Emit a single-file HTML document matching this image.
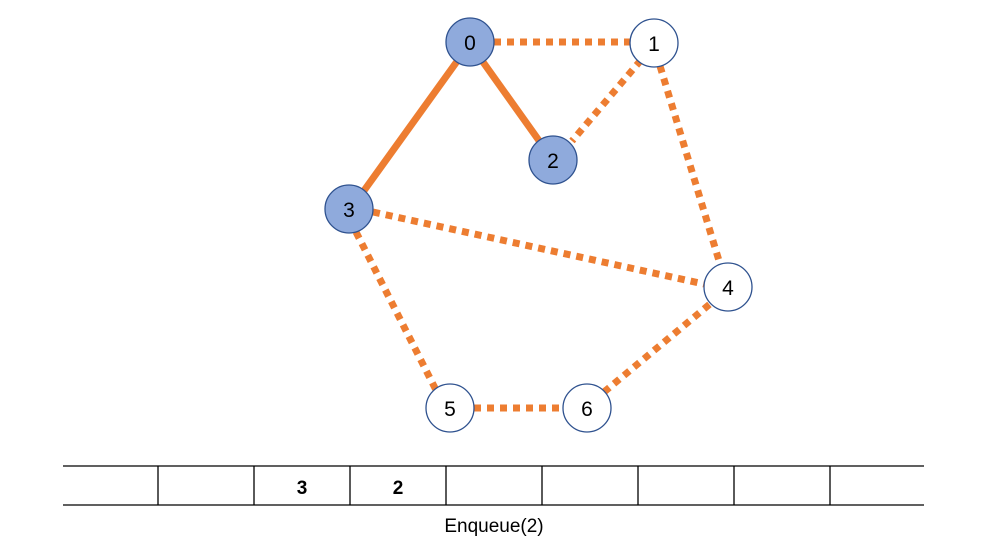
<!DOCTYPE html>
<html><head><style>
html,body{margin:0;padding:0;background:#fff;}
svg{display:block;font-family:"Liberation Sans",sans-serif;}
</style></head><body>
<svg width="984" height="550" viewBox="0 0 984 550" xmlns="http://www.w3.org/2000/svg">
<g stroke="#ED7D31" stroke-width="7" fill="none">
<g stroke-dasharray="7 6">
<line x1="494" y1="42" x2="630" y2="42"/>
<line x1="641" y1="60" x2="572" y2="141"/>
<line x1="660" y1="66" x2="720" y2="264"/>
<line x1="373" y1="212" x2="704" y2="284"/>
<line x1="356" y1="232" x2="436" y2="390"/>
<line x1="474" y1="408" x2="563" y2="408"/>
<line x1="604" y1="392" x2="710" y2="304"/>
</g>
<line x1="458" y1="60" x2="363" y2="192"/>
<line x1="483" y1="62" x2="540" y2="142"/>
</g>
<g stroke="#2F528F" stroke-width="1.3">
<circle cx="470" cy="42" r="24" fill="#8FAADC"/>
<circle cx="654" cy="43" r="24" fill="#fff"/>
<circle cx="553" cy="160" r="24" fill="#8FAADC"/>
<circle cx="349" cy="209" r="24" fill="#8FAADC"/>
<circle cx="728" cy="287" r="24" fill="#fff"/>
<circle cx="450" cy="408" r="24" fill="#fff"/>
<circle cx="587" cy="408" r="24" fill="#fff"/>
</g>
<g font-size="21" text-anchor="middle" fill="#000">
<text x="470" y="50">0</text>
<text x="654" y="51">1</text>
<text x="553" y="168">2</text>
<text x="349" y="217">3</text>
<text x="728" y="295">4</text>
<text x="450" y="416">5</text>
<text x="587" y="416">6</text>
</g>
<g stroke="#000" stroke-width="1.3">
<line x1="63" y1="466" x2="924" y2="466"/>
<line x1="63" y1="505" x2="924" y2="505"/>
<line x1="158" y1="466" x2="158" y2="505"/>
<line x1="254" y1="466" x2="254" y2="505"/>
<line x1="350" y1="466" x2="350" y2="505"/>
<line x1="446" y1="466" x2="446" y2="505"/>
<line x1="542" y1="466" x2="542" y2="505"/>
<line x1="638" y1="466" x2="638" y2="505"/>
<line x1="734" y1="466" x2="734" y2="505"/>
<line x1="830" y1="466" x2="830" y2="505"/>
</g>
<g font-size="19" font-weight="bold" text-anchor="middle">
<text x="302" y="494">3</text>
<text x="398" y="494">2</text>
</g>
<text x="494" y="532" font-size="19" text-anchor="middle">Enqueue(2)</text>
</svg>
</body></html>
